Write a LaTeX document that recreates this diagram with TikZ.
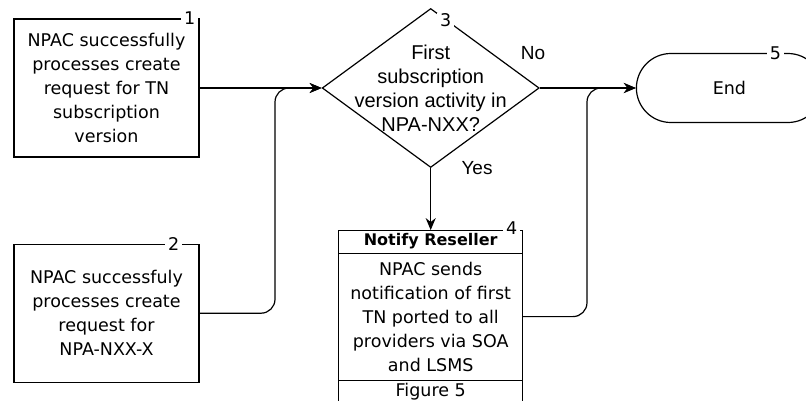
\documentclass[tikz,border=0pt]{standalone}
\usepackage{fontspec}
\setmainfont{DejaVu Sans}
\newfontfamily\arialfont{Liberation Sans}
\usetikzlibrary{shapes, arrows.meta, positioning}

\begin{document}
\begin{tikzpicture}[x=1pt, y=-1pt, node distance=1cm, auto]
        % styles for the flow boxes
        \tikzstyle{process} = [rectangle, minimum width=185pt, minimum height=138pt, align=center, draw=black, line width=1.2pt, font=\fontsize{17.5}{24}\selectfont]
        \tikzstyle{decision} = [diamond, minimum width=217pt, minimum height=159pt, inner sep=0pt, draw=black, line width=1.2pt]
        \tikzstyle{terminal} = [rectangle, rounded corners=34.5pt, minimum width=186pt, minimum height=69pt, draw=black, line width=1.2pt, font=\fontsize{17.5}{24}\selectfont]
        \tikzstyle{part} = [rectangle, minimum width=184pt, inner ysep=1pt, outer sep=0pt, align=center, draw=black, line width=1.2pt, font=\fontsize{17.5}{24}\selectfont]
        \tikzstyle{num} = [fill=white, inner xsep=3pt, inner ysep=0pt, font=\fontsize{17.5}{20}\selectfont]
        \tikzstyle{answer} = [font=\arialfont\fontsize{19}{22}\selectfont]
        \tikzstyle{arrow} = [line width=1.2pt, -{Stealth[length=12pt, width=10pt]}]

        \useasboundingbox (0,0) rectangle (806,401);

        % Step 1: create request for TN
        \node (box1) [process] at (106.5,88) {NPAC successfully\\processes create\\request for TN\\subscription\\version};

        % Step 2: create request for NPA-NXX-X
        \node (box2) [process, below=86pt of box1] {NPAC successfuly\\processes create\\request for\\NPA-NXX-X};

        % Step 3: decision
        \node (dec) [decision, right=122pt of box1] {};
        \node (dectext) [align=center, font=\arialfont\fontsize{20}{24}\selectfont] at (dec.center) {First\\subscription\\version activity in\\NPA-NXX?};

        % Step 4: notify reseller
        \node (head) [part, minimum height=23pt, below=62pt of dec, font=\fontsize{16}{20}\selectfont] {\textbf{Notify Reseller}};
        \node (body) [part, minimum height=127pt, below=0pt of head] {NPAC sends\\notification of first\\TN ported to all\\providers via SOA\\and LSMS};
        \node (foot) [part, minimum height=24pt, below=0pt of body] {Figure 5};

        % Step 5: end
        \node (end) [terminal, right=96pt of dec] {End};

        % step numbers
        \node (num1) [num] at ([xshift=-10pt]box1.north east) {1};
        \node (num2) [num] at ([xshift=-26pt]box2.north east) {2};
        \node (num3) [num] at ([xshift=15pt, yshift=-12pt]dec.north) {3};
        \node (num4) [num] at ([xshift=-11pt, yshift=2pt]head.north east) {4};
        \node (num5) [num] at ([xshift=46pt]end.north) {5};

        % answers
        \node (no) [answer] at (533,53) {No};
        \node (yes) [answer] at (477,168) {Yes};

        % arrows
        \coordinate (join1) at (275,88);
        \coordinate (join2) at (587,88);
        \draw [arrow] (box1) -- (dec);
        \draw [arrow, rounded corners=14pt] (box2.east) -| (join1) -- (dec.west);
        \draw [arrow] (dec) -- (head);
        \draw [arrow] (dec) -- (end);
        \draw [arrow, rounded corners=14pt] (body.east) -| (join2) -- (end.west);

\end{tikzpicture}
\end{document}
